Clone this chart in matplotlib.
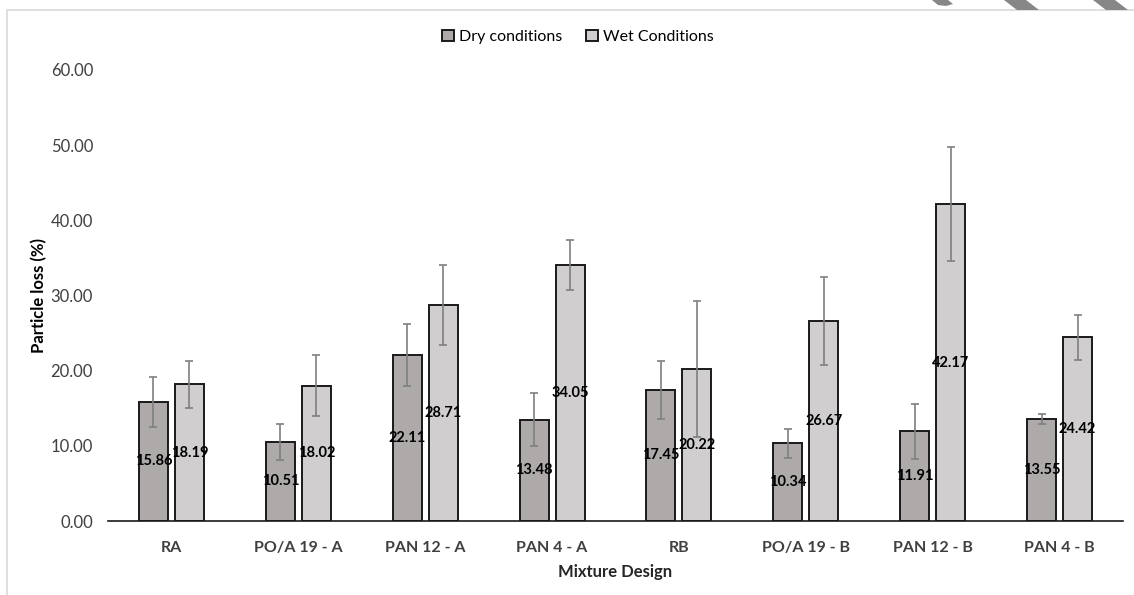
import numpy as np
import matplotlib.pyplot as plt
from matplotlib.patches import Rectangle, Polygon

plt.rcParams['font.family'] = ['Lato', 'DejaVu Sans']

# Particle loss per mixture (mean and spread)
mixtures = ['RA', 'PO/A 19 - A', 'PAN 12 - A', 'PAN 4 - A',
            'RB', 'PO/A 19 - B', 'PAN 12 - B', 'PAN 4 - B']
dry = [15.86, 10.51, 22.11, 13.48, 17.45, 10.34, 11.91, 13.55]
wet = [18.19, 18.02, 28.71, 34.05, 20.22, 26.67, 42.17, 24.42]
dry_err = [3.3, 2.4, 4.1, 3.5, 3.9, 1.95, 3.7, 0.65]
wet_err = [3.1, 4.0, 5.3, 3.3, 9.0, 5.85, 7.6, 3.0]
series_names = ['Dry conditions', 'Wet Conditions']

W, H = 1134, 595
fig = plt.figure(figsize=(W / 100, H / 100), dpi=100)
ax = fig.add_axes([108 / W, 1 - 521 / H, (1123 - 108) / W, (521 - 70) / H])

x = np.arange(len(mixtures))
bw = 0.228
off = 0.142
dry_col = '#aeaaaa'
wet_col = '#d0cece'

b1 = ax.bar(x - off, dry, bw, color=dry_col, edgecolor='#1a1a1a', linewidth=1.4,
            label=series_names[0], zorder=2)
b2 = ax.bar(x + off, wet, bw, color=wet_col, edgecolor='#1a1a1a', linewidth=1.4,
            label=series_names[1], zorder=2)
ax.errorbar(x - off, dry, yerr=dry_err, fmt='none', ecolor='#7f7f7f',
            elinewidth=1.2, capsize=2.8, capthick=1.2, zorder=3)
ax.errorbar(x + off, wet, yerr=wet_err, fmt='none', ecolor='#7f7f7f',
            elinewidth=1.2, capsize=2.8, capthick=1.2, zorder=3)

for xs, vals in ((x - off, dry), (x + off, wet)):
    for xi, v in zip(xs, vals):
        ax.text(xi, v / 2, f'{v:.2f}', ha='center', va='center',
                fontsize=10.5, fontweight='bold', color='black', zorder=4)

ax.set_xlim(-0.5, len(mixtures) - 0.5)
ax.set_ylim(0, 60)
ax.set_yticks(np.arange(0, 61, 10))
ax.set_yticklabels([f'{t:.2f}' for t in np.arange(0, 61, 10)])
ax.set_xticks(x)
ax.set_xticklabels(mixtures, fontweight='bold')
ax.tick_params(axis='y', length=0, pad=10.8, labelsize=12, labelcolor='#404040')
ax.tick_params(axis='x', length=0, pad=14.5, labelsize=11.5, labelcolor='#404040')
for s in ('top', 'right', 'left'):
    ax.spines[s].set_visible(False)
ax.spines['bottom'].set_linewidth(1.2)
ax.spines['bottom'].set_color('#1a1a1a')

ax.set_xlabel('Mixture Design', fontsize=12, fontweight='bold', color='#262626', va='top')
ax.xaxis.set_label_coords(0.5, -0.096)
ax.set_ylabel('Particle loss (%)', fontsize=12, fontweight='bold', color='#000000')
ax.yaxis.set_label_coords(-0.060, 0.5)

fig.legend(handles=[b1, b2], loc='center', bbox_to_anchor=(578 / W, 1 - 37 / H),
           ncol=2, frameon=False, fontsize=11.5, handlelength=0.75, handleheight=0.75,
           handletextpad=0.3, columnspacing=1.5)

# chart frame
fig.add_artist(Rectangle((7 / W, -0.1), 1.2, 1 - 10 / H + 0.1, transform=fig.transFigure,
                         fill=False, edgecolor='#d9d9d9', linewidth=1.2))

# grey strokes along the top-right edge
for pts in ([(932, 0), (948, 0), (953, 4), (946, 6), (938, 5)],
            [(1004, 0), (1026, 0), (1039, 10), (1017, 10)],
            [(1093, 0), (1115, 0), (1128, 10), (1106, 10)]):
    fig.add_artist(Polygon([(px / W, 1 - py / H) for px, py in pts], closed=True,
                           transform=fig.transFigure, facecolor='#878787',
                           edgecolor='none'))

fig.savefig('out.png', dpi=100)
